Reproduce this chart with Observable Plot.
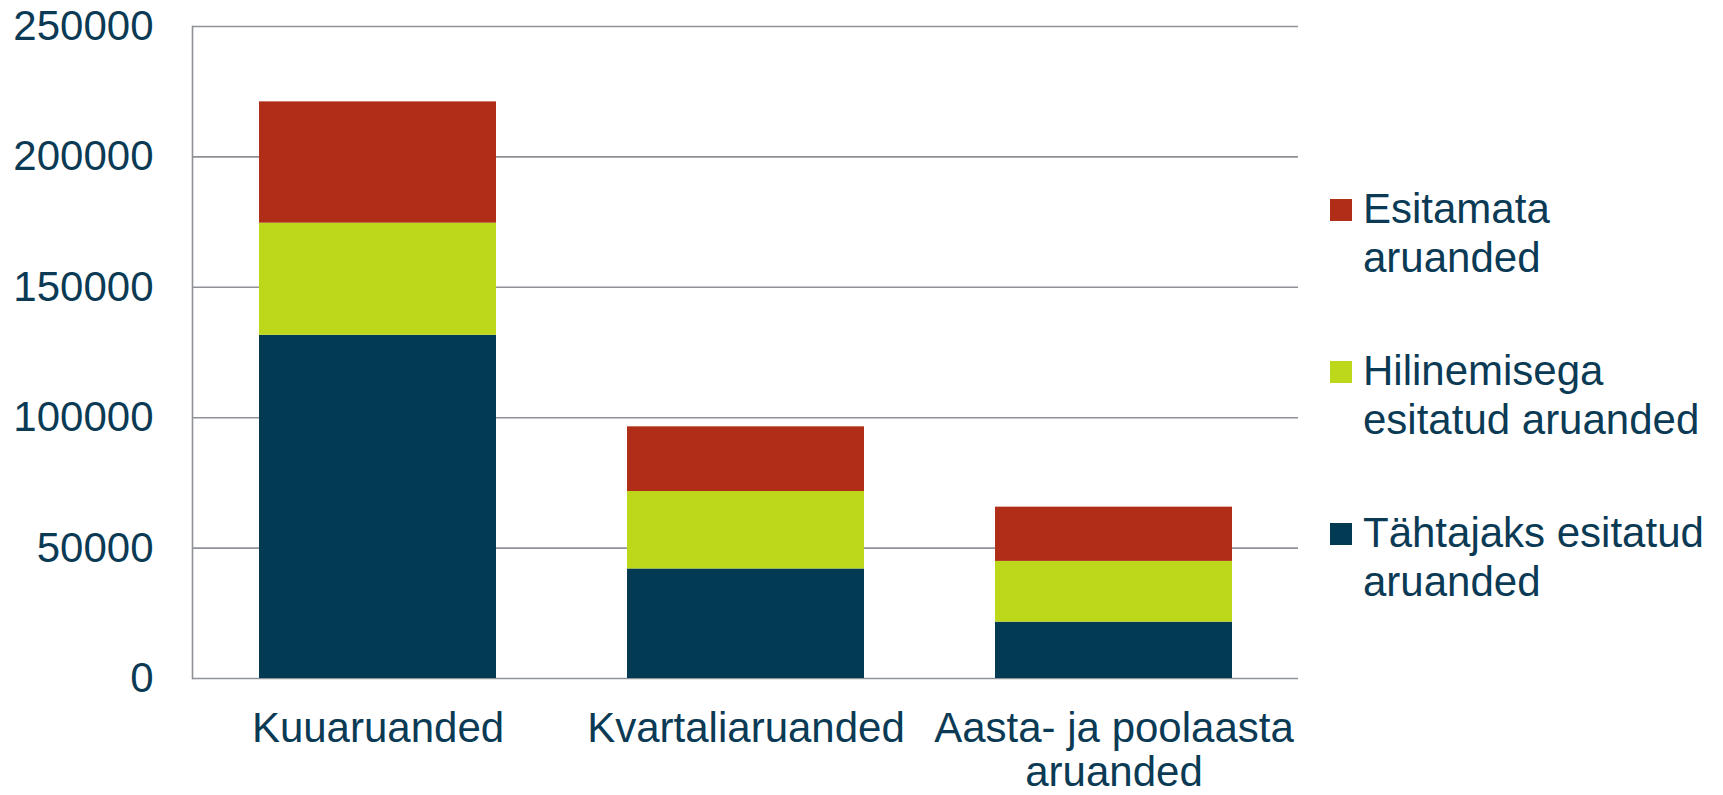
<!DOCTYPE html>
<html>
<head>
<meta charset="utf-8">
<script src="https://cdn.jsdelivr.net/npm/d3@7"></script>
<script src="https://cdn.jsdelivr.net/npm/@observablehq/plot@0.6"></script>
<style>
  html, body { margin: 0; padding: 0; background: #ffffff; overflow: hidden; }
  #wrap { position: relative; width: 1723px; height: 795px; font-family: "Liberation Sans", Arial, sans-serif; }
  #legend { position: absolute; left: 1330px; top: 184px; color: #0b3a55; font-size: 42px; line-height: 49px; }
  .item { position: absolute; left: 0; width: 400px; }
  .sw { position: absolute; left: 0; top: 15px; width: 22px; height: 22px; }
  .lab { position: absolute; left: 33px; top: 0; white-space: pre; }
</style>
</head>
<body>
<div id="wrap"><div id="legend"></div></div>
<script>
const categories = ["Kuuaruanded", "Kvartaliaruanded", "Aasta- ja poolaasta aruanded"];
const categoryLabels = ["Kuuaruanded", "Kvartaliaruanded", "Aasta- ja poolaasta\naruanded"];
const series = ["Tähtajaks esitatud aruanded", "Hilinemisega esitatud aruanded", "Esitamata aruanded"];
const seriesColors = ["#033a53", "#bdd81a", "#b02e17"];
const onTime = [131600, 42000, 21600];
const late = [43000, 29700, 23300];
const missing = [46500, 24800, 20800];
const yTicks = [0, 50000, 100000, 150000, 200000, 250000];
const legendOrder = ["Esitamata aruanded", "Hilinemisega esitatud aruanded", "Tähtajaks esitatud aruanded"];
const legendLabels = ["Esitamata\naruanded", "Hilinemisega\nesitatud aruanded", "Tähtajaks esitatud\naruanded"];

const values = [onTime, late, missing];
const rows = [];
series.forEach((s, i) => categories.forEach((c, j) => rows.push({category: c, series: s, value: values[i][j]})));

const textColor = "#0b3a55";
const gridColor = "#8e9297";

const chart = Plot.plot({
  width: 1723,
  height: 795,
  marginLeft: 192,
  marginRight: 425,
  marginTop: 26,
  marginBottom: 117,
  style: {fontFamily: "'Liberation Sans', Arial, sans-serif", color: textColor, background: "#ffffff"},
  x: {domain: categories, paddingInner: 0.356, paddingOuter: 0.178},
  y: {domain: [0, 250000]},
  color: {domain: series, range: seriesColors},
  marks: [
    Plot.ruleY(yTicks, {stroke: gridColor, strokeWidth: 1.6}),
    Plot.frame({anchor: "left", stroke: gridColor, strokeWidth: 1.6}),
    Plot.barY(rows, Plot.stackY({x: "category", y: "value", fill: "series", order: series})),
    Plot.axisY({ticks: yTicks, tickSize: 0, tickPadding: 39, fontSize: 42, tickFormat: d => String(d), label: null}),
    Plot.axisX({tickSize: 0, tickPadding: 32, fontSize: 42, lineHeight: 1.05, tickFormat: d => categoryLabels[categories.indexOf(d)], label: null})
  ]
});
document.getElementById("wrap").prepend(chart);

const legend = document.getElementById("legend");
legendOrder.forEach((s, i) => {
  const item = document.createElement("div");
  item.className = "item";
  item.style.top = (i * 162) + "px";
  const sw = document.createElement("div");
  sw.className = "sw";
  sw.style.background = seriesColors[series.indexOf(s)];
  const lab = document.createElement("div");
  lab.className = "lab";
  lab.textContent = legendLabels[i];
  item.appendChild(sw);
  item.appendChild(lab);
  legend.appendChild(item);
});
</script>
</body>
</html>
